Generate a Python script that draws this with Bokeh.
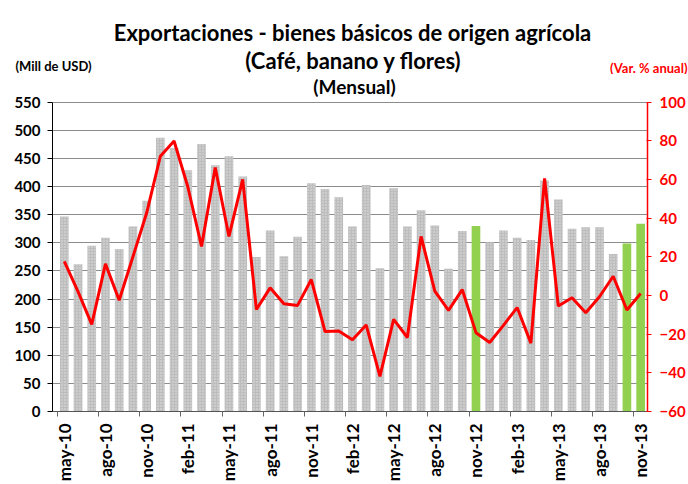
from bokeh.plotting import figure
from bokeh.models import (ColumnDataSource, Range1d, LinearAxis, FixedTicker, Label)
from bokeh.embed import file_html
from bokeh.resources import INLINE

months = ["may-10","jun-10","jul-10","ago-10","sep-10","oct-10","nov-10","dic-10",
          "ene-11","feb-11","mar-11","abr-11","may-11","jun-11","jul-11","ago-11",
          "sep-11","oct-11","nov-11","dic-11","ene-12","feb-12","mar-12","abr-12",
          "may-12","jun-12","jul-12","ago-12","sep-12","oct-12","nov-12","dic-12",
          "ene-13","feb-13","mar-13","abr-13","may-13","jun-13","jul-13","ago-13",
          "sep-13","oct-13","nov-13"]
exports = [347, 262, 295, 309, 289, 329, 375, 487, 469, 429, 476, 438, 454, 418, 275,
           322, 276, 311, 406, 396, 381, 329, 403, 255, 397, 329, 358, 331, 254, 321,
           330, 301, 322, 309, 305, 411, 377, 325, 328, 328, 280, 299, 334]
var_pct = [17.7, 2.0, -14.9, 16.4, -2.4, 20.1, 42.7, 72.1, 80.0, 56.3, 25.4, 66.3, 30.6,
           60.1, -7.2, 4.0, -4.2, -5.1, 8.3, -18.6, -18.3, -22.9, -15.2, -41.8, -12.3,
           -21.7, 30.6, 2.3, -7.7, 3.1, -19.2, -24.3, -15.4, -6.2, -24.6, 60.6, -5.4,
           -1.1, -8.9, -0.6, 10.0, -7.5, 1.1]
highlight = ["nov-12", "oct-13", "nov-13"]
left_ticks = list(range(0, 551, 50))
right_ticks = list(range(-60, 101, 20))

title1 = "Exportaciones - bienes básicos de origen agrícola"
title2 = "(Café, banano y flores)"
title3 = "(Mensual)"
left_unit = "(Mill de USD)"
right_unit = "(Var. % anual)"

GRAY = "#bdbdbd"
GREEN = "#92d050"
RED = "#ff0000"
FONT = "Lato"

W, H_HEAD, H_MAIN = 688, 74, 410
FRAME_TOP_PAD, FRAME_BOTTOM_PAD = 2, 71
frame_h = H_MAIN - FRAME_TOP_PAD - FRAME_BOTTOM_PAD
px_left = 311 / 550.0
px_right = 311 / 160.0

# ---------- header ----------
head = figure(width=W, height=H_HEAD, output_backend="svg", toolbar_location=None,
              x_range=Range1d(0, W), y_range=Range1d(H_HEAD, 0),
              x_axis_location=None, y_axis_location=None,
              min_border=0, min_border_left=0, min_border_right=0,
              min_border_top=0, min_border_bottom=0)
head.grid.visible = False
head.outline_line_color = None
head.background_fill_color = "white"
head.border_fill_color = "white"

def hlab(text, x, y, size, color="black", align="center"):
    head.add_layout(Label(x=x, y=y, text=text, text_font=FONT, text_font_size=size,
                          text_font_style="bold", text_color=color,
                          text_align=align, text_baseline="middle"))

hlab(title1, 352, 32, "22px")
hlab(title2, 353, 60, "22px")
hlab(left_unit, 15, 65, "13px", align="left")
hlab(right_unit, 687, 67, "13px", color=RED, align="right")

# ---------- main chart ----------
xs = [i + 0.5 for i in range(len(months))]
colors = [GREEN if m in highlight else GRAY for m in months]
hatch = ["blank" if m in highlight else "dot" for m in months]
src = ColumnDataSource(dict(x=xs, top=exports, color=colors, hatch=hatch, var=var_pct))

p = figure(width=W, height=H_MAIN, output_backend="svg", toolbar_location=None,
           x_range=Range1d(-0.36, len(months)),
           y_range=Range1d(0, frame_h / px_left),
           min_border_left=52, min_border_right=40,
           min_border_top=FRAME_TOP_PAD, min_border_bottom=FRAME_BOTTOM_PAD)
p.extra_y_ranges = {"var": Range1d(-60, -60 + frame_h / px_right)}
p.outline_line_color = None
p.background_fill_color = "white"
p.border_fill_color = "white"

p.vbar(x="x", top="top", width=0.63, source=src, fill_color="color", line_color=None,
       hatch_pattern="hatch", hatch_color="#e4e4e4", hatch_scale=3, hatch_alpha=1.0)
p.line(x="x", y="var", source=src, y_range_name="var", line_color=RED, line_width=3)

# left axis
ya = p.yaxis[0]
ya.ticker = FixedTicker(ticks=left_ticks)
ya.bounds = (0, 550)
ya.axis_line_color = "black"
ya.major_tick_line_color = "black"
ya.major_tick_in = 0
ya.major_tick_out = 5
ya.minor_tick_line_color = None
ya.major_label_text_font = FONT
ya.major_label_text_font_style = "bold"
ya.major_label_text_font_size = "15px"
ya.major_label_text_color = "black"
ya.major_label_standoff = 7

# right axis
ra = LinearAxis(y_range_name="var", ticker=FixedTicker(ticks=right_ticks), bounds=(-60, 100))
ra.axis_line_color = RED
ra.axis_line_width = 1.5
ra.major_tick_line_color = RED
ra.major_tick_in = 1
ra.major_tick_out = 4
ra.minor_tick_line_color = None
ra.major_label_text_font = FONT
ra.major_label_text_font_style = "bold"
ra.major_label_text_font_size = "15px"
ra.major_label_text_color = RED
ra.major_label_standoff = 8
p.add_layout(ra, "right")

# bottom axis: labels at bar centres, tick marks at category boundaries
xa = p.xaxis[0]
label_pos = [xs[i] for i in range(0, len(months), 3)]
bound_pos = [float(i) for i in range(0, len(months), 3)]
xa.ticker = FixedTicker(ticks=label_pos, minor_ticks=bound_pos)
xa.major_label_overrides = {xs[i]: months[i] for i in range(0, len(months), 3)}
xa.major_label_orientation = 1.5708
xa.major_label_text_font = FONT
xa.major_label_text_font_style = "bold"
xa.major_label_text_font_size = "17px"
xa.major_label_text_color = "black"
xa.axis_line_color = "#555555"
xa.major_tick_line_alpha = 0
xa.major_tick_in = 0
xa.major_tick_out = 5
xa.minor_tick_line_color = "#666666"
xa.minor_tick_in = 0
xa.minor_tick_out = 5
xa.major_label_standoff = 7

p.xgrid.grid_line_color = None
p.ygrid.ticker = FixedTicker(ticks=left_ticks[1:])
p.ygrid.grid_line_color = "#8c8c8c"
p.ygrid.grid_line_width = 1

# frame bottom sits at y = 413 in the page; "(Mensual)" is centred at y = 88
p.add_layout(Label(x=302, y=413 - 88, x_units="screen", y_units="screen",
                   text=title3, text_font=FONT, text_font_size="19px", text_font_style="bold",
                   text_color="black", text_align="center", text_baseline="middle"))

open("out.html", "w").write(file_html([head, p], INLINE))
